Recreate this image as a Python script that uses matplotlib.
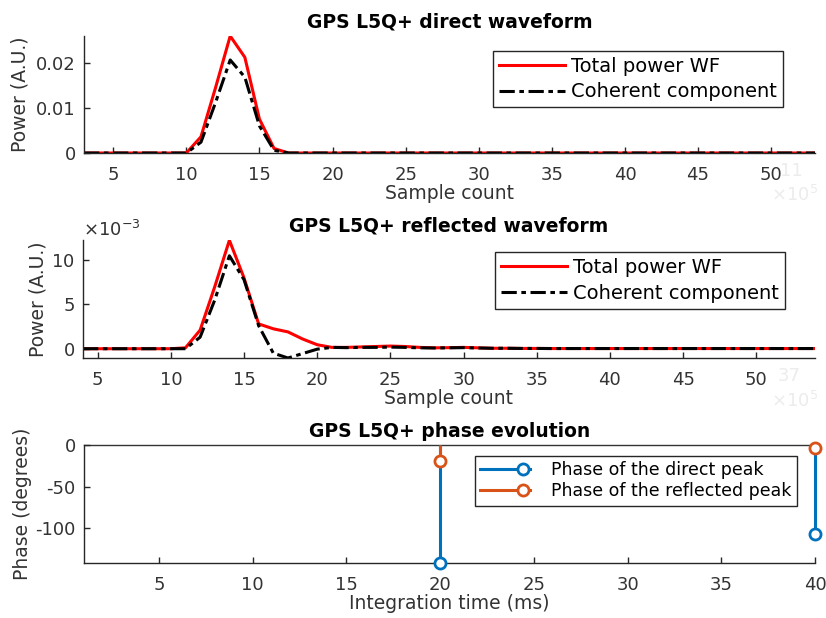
import numpy as np
import matplotlib
matplotlib.use("Agg")
import matplotlib.pyplot as plt
from matplotlib.lines import Line2D
from matplotlib.legend_handler import HandlerBase
from matplotlib.ticker import FuncFormatter

plt.rcParams['font.family'] = ['DejaVu Sans']
plt.rcParams['axes.unicode_minus'] = False

# direct waveform (samples 3..53)
direct_x = np.arange(3, 54)
direct_total = [0, 0, 0, 0, 0, 0, 0, 0,
                0.0036, 0.0145, 0.0259, 0.0212, 0.0075, 0.0010,
                0, 0, 0, 0, 0, 0, 0, 0, 0, 0,
                0, 0, 0, 0, 0, 0, 0, 0, 0, 0,
                0, 0, 0, 0, 0, 0, 0, 0, 0, 0,
                0, 0, 0, 0, 0, 0, 0]
direct_coh = [0, 0, 0, 0, 0, 0, 0, 0,
              0.0024, 0.0112, 0.0206, 0.0168, 0.0060, 0.0006,
              0, 0, 0, 0, 0, 0, 0, 0, 0, 0,
              0, 0, 0, 0, 0, 0, 0, 0, 0, 0,
              0, 0, 0, 0, 0, 0, 0, 0, 0, 0,
              0, 0, 0, 0, 0, 0, 0]

# reflected waveform (samples 4..54), units of 1e-3
refl_x = np.arange(4, 55)
refl_total = [0, 0, 0, 0, 0, 0, 0,
              0.10, 2.10, 7.00, 12.25, 8.00, 2.80, 2.25, 1.90, 1.10, 0.45,
              0.15, 0.15, 0.20, 0.25, 0.30, 0.25, 0.15, 0.10, 0.12, 0.15, 0.10,
              0.05, 0.05, 0.03, 0.03, 0.02, 0.02, 0.02, 0.02, 0.02, 0.02,
              0.02, 0.02, 0.02, 0.02, 0.02, 0.02, 0.02, 0.02, 0.02, 0.02,
              0.02, 0.02, 0.02]
refl_coh = [0, 0, 0, 0, 0, 0, 0,
            0.00, 1.30, 5.50, 10.50, 7.80, 2.60, -0.50, -1.05, -0.55, -0.05,
            0.15, 0.12, 0.15, 0.15, 0.18, 0.15, 0.10, 0.08, 0.10, 0.12, 0.08,
            0.05, 0.05, 0.03, 0.03, 0.02, 0.02, 0.02, 0.02, 0.02, 0.02,
            0.02, 0.02, 0.02, 0.02, 0.02, 0.02, 0.02, 0.02, 0.02, 0.02,
            0.02, 0.02, 0.02]

# phase of the peaks
int_time = [20, 40]
phase_direct = [-142.0, -106.5]
phase_reflected = [-19.5, -3.2]

AXC = '#262626'
TXT = '#333333'
FS = 13
LABFS = 13.5
DASH = (0, (5, 1.5, 1.5, 1.5))


class StemHandler(HandlerBase):
    # legend entry: line with the marker at its right end
    def create_artists(self, legend, orig, xdescent, ydescent, width, height,
                       fontsize, trans):
        y = height / 2 - ydescent
        ln = Line2D([-xdescent, width - xdescent], [y, y], color=orig.get_color(),
                    lw=orig.get_linewidth(), transform=trans)
        mk = Line2D([width - xdescent - 5], [y], marker='o', ls='none',
                    mfc='white', mec=orig.get_color(), mew=2, ms=8,
                    transform=trans)
        return [ln, mk]


def style(ax):
    for s in ['top', 'right']:
        ax.spines[s].set_visible(False)
    for s in ['left', 'bottom']:
        ax.spines[s].set_color(AXC)
        ax.spines[s].set_linewidth(1.0)
    ax.tick_params(direction='in', length=4, width=1, color=AXC,
                   labelcolor=TXT, labelsize=FS, top=False, right=False)
    ax.tick_params(axis='x', pad=9)
    ax.tick_params(axis='y', pad=6)


def legend(ax, anchor, handles=None, fs=14, **kw):
    lg = ax.legend(handles=handles, loc='upper right', bbox_to_anchor=anchor,
                   borderaxespad=0, fontsize=fs, fancybox=False, framealpha=1,
                   edgecolor=AXC, borderpad=0.3, **kw)
    lg.get_frame().set_linewidth(1.0)
    return lg


fig = plt.figure(figsize=(8.26, 6.18), dpi=100)
ax1 = fig.add_axes([0.1017, 0.7524, 0.885, 0.1893])
ax2 = fig.add_axes([0.1005, 0.4207, 0.886, 0.1905])
ax3 = fig.add_axes([0.1017, 0.0885, 0.885, 0.1914])

# direct waveform
ax1.plot(direct_x, direct_total, color='red', lw=2.2, label='Total power WF')
ax1.plot(direct_x, direct_coh, color='black', lw=2.2, ls=DASH,
         label='Coherent component')
ax1.set_xlim(3, 53)
ax1.set_ylim(min(direct_total + direct_coh), max(direct_total + direct_coh))
ax1.set_xticks(range(5, 55, 5))
ax1.set_yticks([0, 0.01, 0.02])
ax1.yaxis.set_major_formatter(FuncFormatter(lambda v, p: '%g' % round(v, 4)))
style(ax1)
ax1.set_title('GPS L5Q+ direct waveform', fontsize=LABFS, fontweight='bold', pad=6)
ax1.set_xlabel('Sample count', fontsize=LABFS, color=TXT, labelpad=0)
ax1.set_ylabel('Power (A.U.)', fontsize=LABFS, color=TXT)
ax1.yaxis.set_label_coords(-0.074, 0.5)
legend(ax1, (0.956, 0.874), handlelength=3.4, handletextpad=0.3,
       labelspacing=0.35)

# reflected waveform
rt = np.array(refl_total) * 1e-3
rc = np.array(refl_coh) * 1e-3
ax2.plot(refl_x, rt, color='red', lw=2.2, label='Total power WF')
ax2.plot(refl_x, rc, color='black', lw=2.2, ls=DASH,
         label='Coherent component')
ax2.set_xlim(4, 54)
ax2.set_ylim(rc.min(), rt.max())
ax2.set_xticks(range(5, 55, 5))
ax2.set_yticks([0, 0.005, 0.010])
ax2.ticklabel_format(axis='y', style='sci', scilimits=(-3, -3), useMathText=True)
style(ax2)
ax2.yaxis.get_offset_text().set_fontsize(FS)
ax2.yaxis.get_offset_text().set_color(TXT)
ax2.set_title('GPS L5Q+ reflected waveform', fontsize=LABFS, fontweight='bold', pad=6)
ax2.set_xlabel('Sample count', fontsize=LABFS, color=TXT, labelpad=0)
ax2.set_ylabel('Power (A.U.)', fontsize=LABFS, color=TXT)
ax2.yaxis.set_label_coords(-0.048, 0.5)
legend(ax2, (0.959, 0.90), handlelength=3.4, handletextpad=0.3,
       labelspacing=0.35)

# phase evolution (stem plot)
handles = []
for vals, col, lab in [(phase_direct, '#0072BD', 'Phase of the direct peak'),
                       (phase_reflected, '#D95319', 'Phase of the reflected peak')]:
    ml, sl, bl = ax3.stem(int_time, vals, bottom=0)
    sl.set_color(col)
    sl.set_linewidth(2.2)
    sl.set_clip_on(False)
    ml.set_marker('o')
    ml.set_markerfacecolor('white')
    ml.set_markeredgecolor(col)
    ml.set_markeredgewidth(2)
    ml.set_markersize(8)
    ml.set_clip_on(False)
    ml.set_zorder(4)
    bl.set_visible(False)
    handles.append(Line2D([], [], color=col, lw=2.2, label=lab))
ax3.axhline(0, color='#333333', lw=1.0, clip_on=False, zorder=1)
ax3.set_xlim(1, 40)
ax3.set_ylim(min(phase_direct), 0)
ax3.set_xticks(range(5, 45, 5))
ax3.set_yticks([-100, -50, 0])
style(ax3)
ax3.set_title('GPS L5Q+ phase evolution', fontsize=LABFS, fontweight='bold', pad=6)
ax3.set_xlabel('Integration time (ms)', fontsize=LABFS, color=TXT, labelpad=0)
ax3.set_ylabel('Phase (degrees)', fontsize=LABFS, color=TXT)
ax3.yaxis.set_label_coords(-0.071, 0.5)
legend(ax3, (0.975, 0.91), handles=handles, fs=12.5, handlelength=2.9,
       handletextpad=1.2, labelspacing=0.2,
       handler_map={Line2D: StemHandler()})

# faint leftover labels at the right edge
ghost = '#ececec'
fig.text(0.958, 0.724, '11', fontsize=FS, color=ghost, ha='center', va='center')
fig.text(0.962, 0.684, r'$\times10^5$', fontsize=FS, color=ghost, ha='center', va='center')
fig.text(0.955, 0.392, '37', fontsize=FS, color=ghost, ha='center', va='center')
fig.text(0.962, 0.352, r'$\times10^5$', fontsize=FS, color=ghost, ha='center', va='center')

fig.savefig('out.png', dpi=100)
